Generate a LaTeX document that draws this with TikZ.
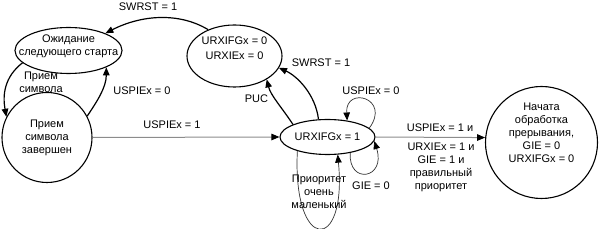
\documentclass[tikz,border=0pt]{standalone}
\usepackage{fontspec}
\setmainfont{Liberation Sans}
\usetikzlibrary{shapes.geometric,arrows.meta}
\begin{document}
\begin{tikzpicture}[x=1pt,y=-1pt,
  every node/.style={font=\fontsize{11}{13}\selectfont},
  st/.style={draw=black, line width=1.1pt, inner sep=0pt},
  el/.style={st, ellipse},
  ci/.style={st, circle, align=center},
  tip/.style={-{Triangle[length=8pt,width=6.5pt,color=black]}},
  arc/.style={tip, line width=1.2pt},
  loopl/.style={tip, draw=black!80, line width=0.7pt},
  flat/.style={tip, draw=black!45, line width=1pt},
  lab/.style={align=center, inner sep=0pt},
  txt/.style={align=center, inner sep=0pt}]
\useasboundingbox (0,0) rectangle (600,229);

% states
\node[el, minimum width=107pt, minimum height=46pt,
      label={[txt,yshift=4pt]center:{Ожидание\\следующего старта}}] (ozh) at (68.5,50.5) {};
\node[ci, minimum size=90pt] (pr) at (47,137.5) {Прием\\символа\\завершен};
\node[el, minimum width=95pt, minimum height=62pt,
      label={[txt,yshift=8pt]center:{URXIFGx = 0\\[2pt]URXIEx = 0}}] (u0) at (234.5,56) {};
\node[el, minimum width=95pt, minimum height=35pt] (u1) at (327.5,137) {URXIFGx = 1};
\node[ci, minimum size=112pt,
      label={[txt,yshift=9.5pt]center:{Начата\\обработка\\прерывания,\\GIE = 0\\URXIFGx = 0}}] (irq) at (541.5,142.5) {};

% connectors
\draw[arc] (u0.135) .. controls +(-30,-18) and +(35,-18) .. (ozh.25);
\draw[arc] (ozh.195) .. controls +(-18,14) and +(-4,-22) .. (pr.153);
\draw[arc] (pr.28) .. controls +(10,-15) and +(0,20) .. (ozh.-24);
\draw[flat] (pr.east) -- (u1.west);
\draw[arc] (u1.160) .. controls +(-12,-18) and +(4,16) .. (u0.-36);
\draw[arc] (u1.117) .. controls +(-3,-25) and +(18,8) .. (u0.-15);
\draw[loopl] (u1.12) .. controls +(22,-30) and +(-2,-35) .. (u1.40);
\draw[loopl] (u1.-35) .. controls +(-2,32) and +(12,38) .. (u1.-5);
\draw[loopl] (u1.205) .. controls +(-5,102) and +(9.6,99) .. (u1.-60);
\draw[flat] (u1.east) -- (irq.175);

% labels
\node[lab] (l1) at (148,6.5) {SWRST = 1};
\node[lab] (l2) at (41,82) {Прием\\символа};
\node[lab] (l3) at (142,91) {USPIEx = 0};
\node[lab] (l4) at (172,125) {USPIEx = 1};
\node[lab] (l5) at (256.5,98.5) {PUC};
\node[lab] (l6) at (321,62.5) {SWRST = 1};
\node[lab] (l7) at (371,91) {USPIEx = 0};
\node[lab] (l8) at (371,186) {GIE = 0};
\node[lab] (l9) at (319,191.5) {Приоритет\\очень\\маленький};
\node[lab] (l10) at (440,127.5) {USPIEx = 1 и};
\node[lab] (l11) at (441,167.5) {URXIEx = 1 и\\GIE = 1 и\\правильный\\приоритет};
\end{tikzpicture}
\end{document}
